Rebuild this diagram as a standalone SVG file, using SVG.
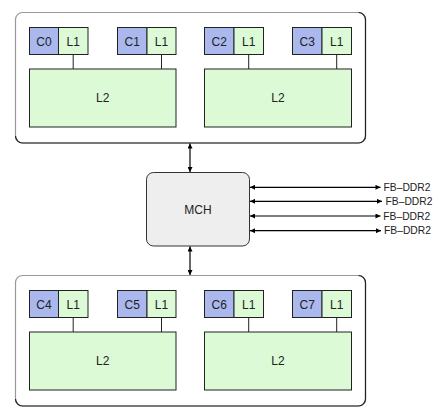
<svg xmlns="http://www.w3.org/2000/svg" width="444" height="413" viewBox="0 0 444 413">
<style>
text{font-family:"Liberation Sans",Arial,sans-serif;fill:#222;}
.lbl{font-size:12px;text-anchor:middle;}
.fb{font-size:10.3px;}
.core{fill:#aab8ee;stroke:#222;stroke-width:1;}
.l1{fill:#dcfad6;stroke:#222;stroke-width:1;}
.l2{fill:#dcfad6;stroke:#222;stroke-width:1;}
.outer{fill:#fff;stroke:#999;stroke-width:1.2;}
.shade{fill:none;stroke:#222;stroke-width:1.2;}
.wire{stroke:#222;stroke-width:1;fill:none;}
.arr{stroke:#000;stroke-width:1.2;fill:none;marker-start:url(#ah);marker-end:url(#ah);}
</style>
<defs>
<marker id="ah" viewBox="0 0 10 10" refX="10" refY="5" markerWidth="7" markerHeight="5" markerUnits="userSpaceOnUse" orient="auto-start-reverse">
<path d="M0,0 L10,5 L0,10 z" fill="#000"/>
</marker>
<g id="socket">
<rect class="outer" x="15.5" y="12.5" width="350" height="130.5" rx="7"/>
<path class="shade" d="M358.5,12.5 A7,7 0 0 1 365.5,19.5 L365.5,136 A7,7 0 0 1 358.5,143 L22.5,143 A7,7 0 0 1 15.5,136"/>
</g>
</defs>

<g id="cpu-top">
<use href="#socket"/>
<g id="c0"><rect class="core" x="29.5" y="27.5" width="29" height="27"/><text class="lbl" x="44" y="45.5">C0</text></g>
<g id="c0-l1"><rect class="l1" x="58.5" y="27.5" width="29.5" height="27"/><text class="lbl" x="73.2" y="45.5">L1</text></g>
<g id="c1"><rect class="core" x="117.5" y="27.5" width="29.5" height="27"/><text class="lbl" x="132.2" y="45.5">C1</text></g>
<g id="c1-l1"><rect class="l1" x="147" y="27.5" width="29" height="27"/><text class="lbl" x="161.5" y="45.5">L1</text></g>
<g id="c2"><rect class="core" x="204.5" y="27.5" width="29.5" height="27"/><text class="lbl" x="219.2" y="45.5">C2</text></g>
<g id="c2-l1"><rect class="l1" x="234" y="27.5" width="29.5" height="27"/><text class="lbl" x="248.7" y="45.5">L1</text></g>
<g id="c3"><rect class="core" x="292.5" y="27.5" width="29.5" height="27"/><text class="lbl" x="307.2" y="45.5">C3</text></g>
<g id="c3-l1"><rect class="l1" x="322" y="27.5" width="29.5" height="27"/><text class="lbl" x="336.7" y="45.5">L1</text></g>
<g id="l2-a"><rect class="l2" x="29.5" y="69" width="146.5" height="58"/><text class="lbl" x="102.7" y="102">L2</text></g>
<g id="l2-b"><rect class="l2" x="204.5" y="69" width="147" height="58"/><text class="lbl" x="278" y="102">L2</text></g>
</g>

<g id="cpu-bottom" transform="translate(0,263)">
<use href="#socket"/>
<g id="c4"><rect class="core" x="29.5" y="27.5" width="29" height="27"/><text class="lbl" x="44" y="45.5">C4</text></g>
<g id="c4-l1"><rect class="l1" x="58.5" y="27.5" width="29.5" height="27"/><text class="lbl" x="73.2" y="45.5">L1</text></g>
<g id="c5"><rect class="core" x="117.5" y="27.5" width="29.5" height="27"/><text class="lbl" x="132.2" y="45.5">C5</text></g>
<g id="c5-l1"><rect class="l1" x="147" y="27.5" width="29" height="27"/><text class="lbl" x="161.5" y="45.5">L1</text></g>
<g id="c6"><rect class="core" x="204.5" y="27.5" width="29.5" height="27"/><text class="lbl" x="219.2" y="45.5">C6</text></g>
<g id="c6-l1"><rect class="l1" x="234" y="27.5" width="29.5" height="27"/><text class="lbl" x="248.7" y="45.5">L1</text></g>
<g id="c7"><rect class="core" x="292.5" y="27.5" width="29.5" height="27"/><text class="lbl" x="307.2" y="45.5">C7</text></g>
<g id="c7-l1"><rect class="l1" x="322" y="27.5" width="29.5" height="27"/><text class="lbl" x="336.7" y="45.5">L1</text></g>
<g id="l2-c"><rect class="l2" x="29.5" y="69" width="146.5" height="58"/><text class="lbl" x="102.7" y="102">L2</text></g>
<g id="l2-d"><rect class="l2" x="204.5" y="69" width="147" height="58"/><text class="lbl" x="278" y="102">L2</text></g>
</g>

<g id="mch">
<rect x="146.5" y="172.5" width="103" height="73.5" rx="7" fill="#eeeeee" stroke="#333" stroke-width="1"/>
<text class="lbl" x="198" y="213.5">MCH</text>
</g>

<g id="connectors">
<path class="wire" d="M73.2,54.5 V69 M161.5,54.5 V69 M248.7,54.5 V69 M336.7,54.5 V69"/>
<path class="wire" d="M73.2,317.5 V332 M161.5,317.5 V332 M248.7,317.5 V332 M336.7,317.5 V332"/>
<path class="arr" d="M190,143.5 V172"/>
<path class="arr" d="M190,246.5 V275"/>
<path class="arr" d="M250,187.3 H380.5"/>
<path class="arr" d="M250,201.3 H382"/>
<path class="arr" d="M250,216 H380.5"/>
<path class="arr" d="M250,230.7 H381"/>
</g>

<g id="labels">
<text class="fb" x="383.5" y="191">FB–DDR2</text>
<text class="fb" x="385.5" y="205">FB–DDR2</text>
<text class="fb" x="383.3" y="219.7">FB–DDR2</text>
<text class="fb" x="384" y="234.4">FB–DDR2</text>
</g>
</svg>
